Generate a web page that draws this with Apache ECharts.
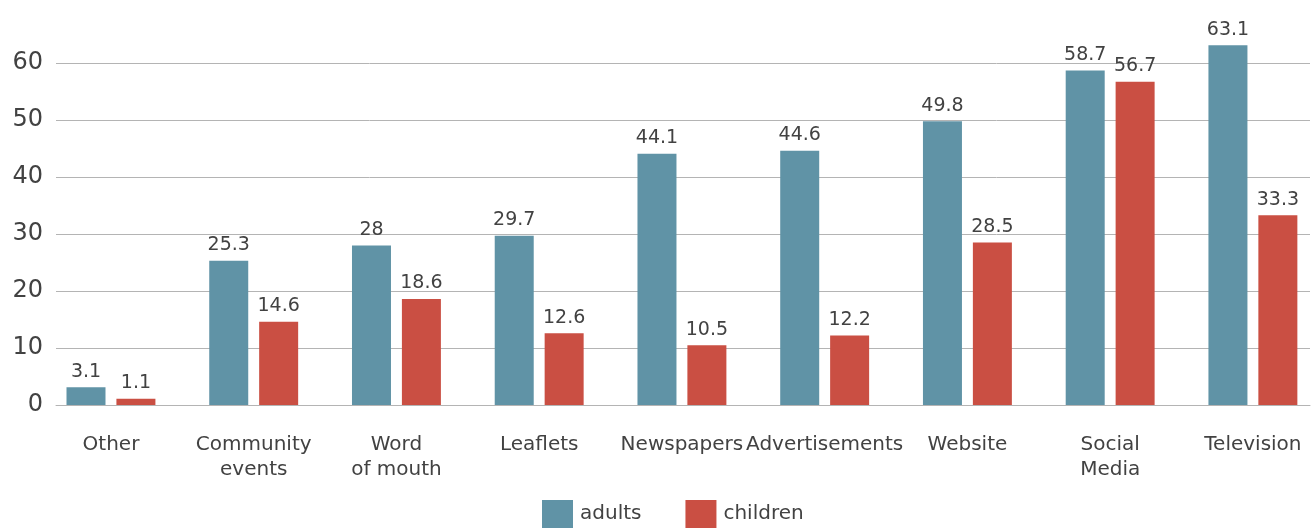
<!DOCTYPE html>
<html>
<head>
<meta charset="utf-8">
<style>
  html, body { margin: 0; padding: 0; background: #ffffff; }
  #chart { width: 1315px; height: 528px; }
</style>
<script src="https://cdn.jsdelivr.net/npm/echarts@6/dist/echarts.min.js"></script>
</head>
<body>
<div id="chart"></div>
<script>
// Information sources, share of respondents (%)
const categories = ['Other', 'Community\nevents', 'Word\nof mouth', 'Leaflets', 'Newspapers', 'Advertisements', 'Website', 'Social\nMedia', 'Television'];
const adults   = [3.1, 25.3, 28, 29.7, 44.1, 44.6, 49.8, 58.7, 63.1];
const children = [1.1, 14.6, 18.6, 12.6, 10.5, 12.2, 28.5, 56.7, 33.3];
const yTicks = [0, 10, 20, 30, 40, 50, 60];

const FONT = '"DejaVu Sans", "Open Sans", sans-serif';
const TEXT = '#424242';
const GRID = '#b4b4b4';

const idx = categories.map((_, i) => i);
const toPairs = arr => arr.map((v, i) => [i, v]);

const chart = echarts.init(document.getElementById('chart'));

const barLabel = {
  show: true,
  position: 'top',
  distance: 6,
  color: TEXT,
  fontFamily: FONT,
  fontSize: 19,
  formatter: p => String(p.value[1])
};

chart.setOption({
  animation: false,
  textStyle: { fontFamily: FONT },
  grid: { left: 56, right: 5, top: 63, bottom: 123, containLabel: false },
  legend: {
    bottom: 0,
    left: 542,
    padding: 0,
    itemWidth: 31,
    itemHeight: 28,
    itemGap: 44,
    icon: 'rect',
    textStyle: { color: TEXT, fontFamily: FONT, fontSize: 20, padding: [6, 0, 0, 2] },
    data: ['adults', 'children']
  },
  xAxis: {
    type: 'value',
    min: -0.385,
    max: 8.4,
    splitLine: { show: false },
    axisTick: { show: false },
    axisLine: { show: true, lineStyle: { color: GRID, width: 1 } },
    axisLabel: {
      customValues: idx,
      formatter: v => categories[Math.round(v)],
      color: TEXT,
      fontFamily: FONT,
      fontSize: 20,
      lineHeight: 25,
      verticalAlign: 'top',
      margin: 27,
      showMinLabel: true,
      showMaxLabel: true
    }
  },
  yAxis: {
    type: 'value',
    min: yTicks[0],
    max: yTicks[yTicks.length - 1],
    interval: 10,
    axisLine: { show: false },
    axisTick: { show: false },
    splitLine: { show: true, lineStyle: { color: GRID, width: 1 } },
    axisLabel: {
      color: TEXT,
      fontFamily: FONT,
      fontSize: 24,
      margin: 13,
      padding: [6, 0, 0, 0]
    }
  },
  series: [
    {
      name: 'adults',
      type: 'bar',
      clip: false,
      barWidth: 39,
      barGap: '28%',
      itemStyle: { color: '#6093a6' },
      label: barLabel,
      data: toPairs(adults)
    },
    {
      name: 'children',
      type: 'bar',
      clip: false,
      barWidth: 39,
      barGap: '28%',
      itemStyle: { color: '#ca4f43' },
      label: barLabel,
      data: toPairs(children)
    }
  ]
});
</script>
</body>
</html>
